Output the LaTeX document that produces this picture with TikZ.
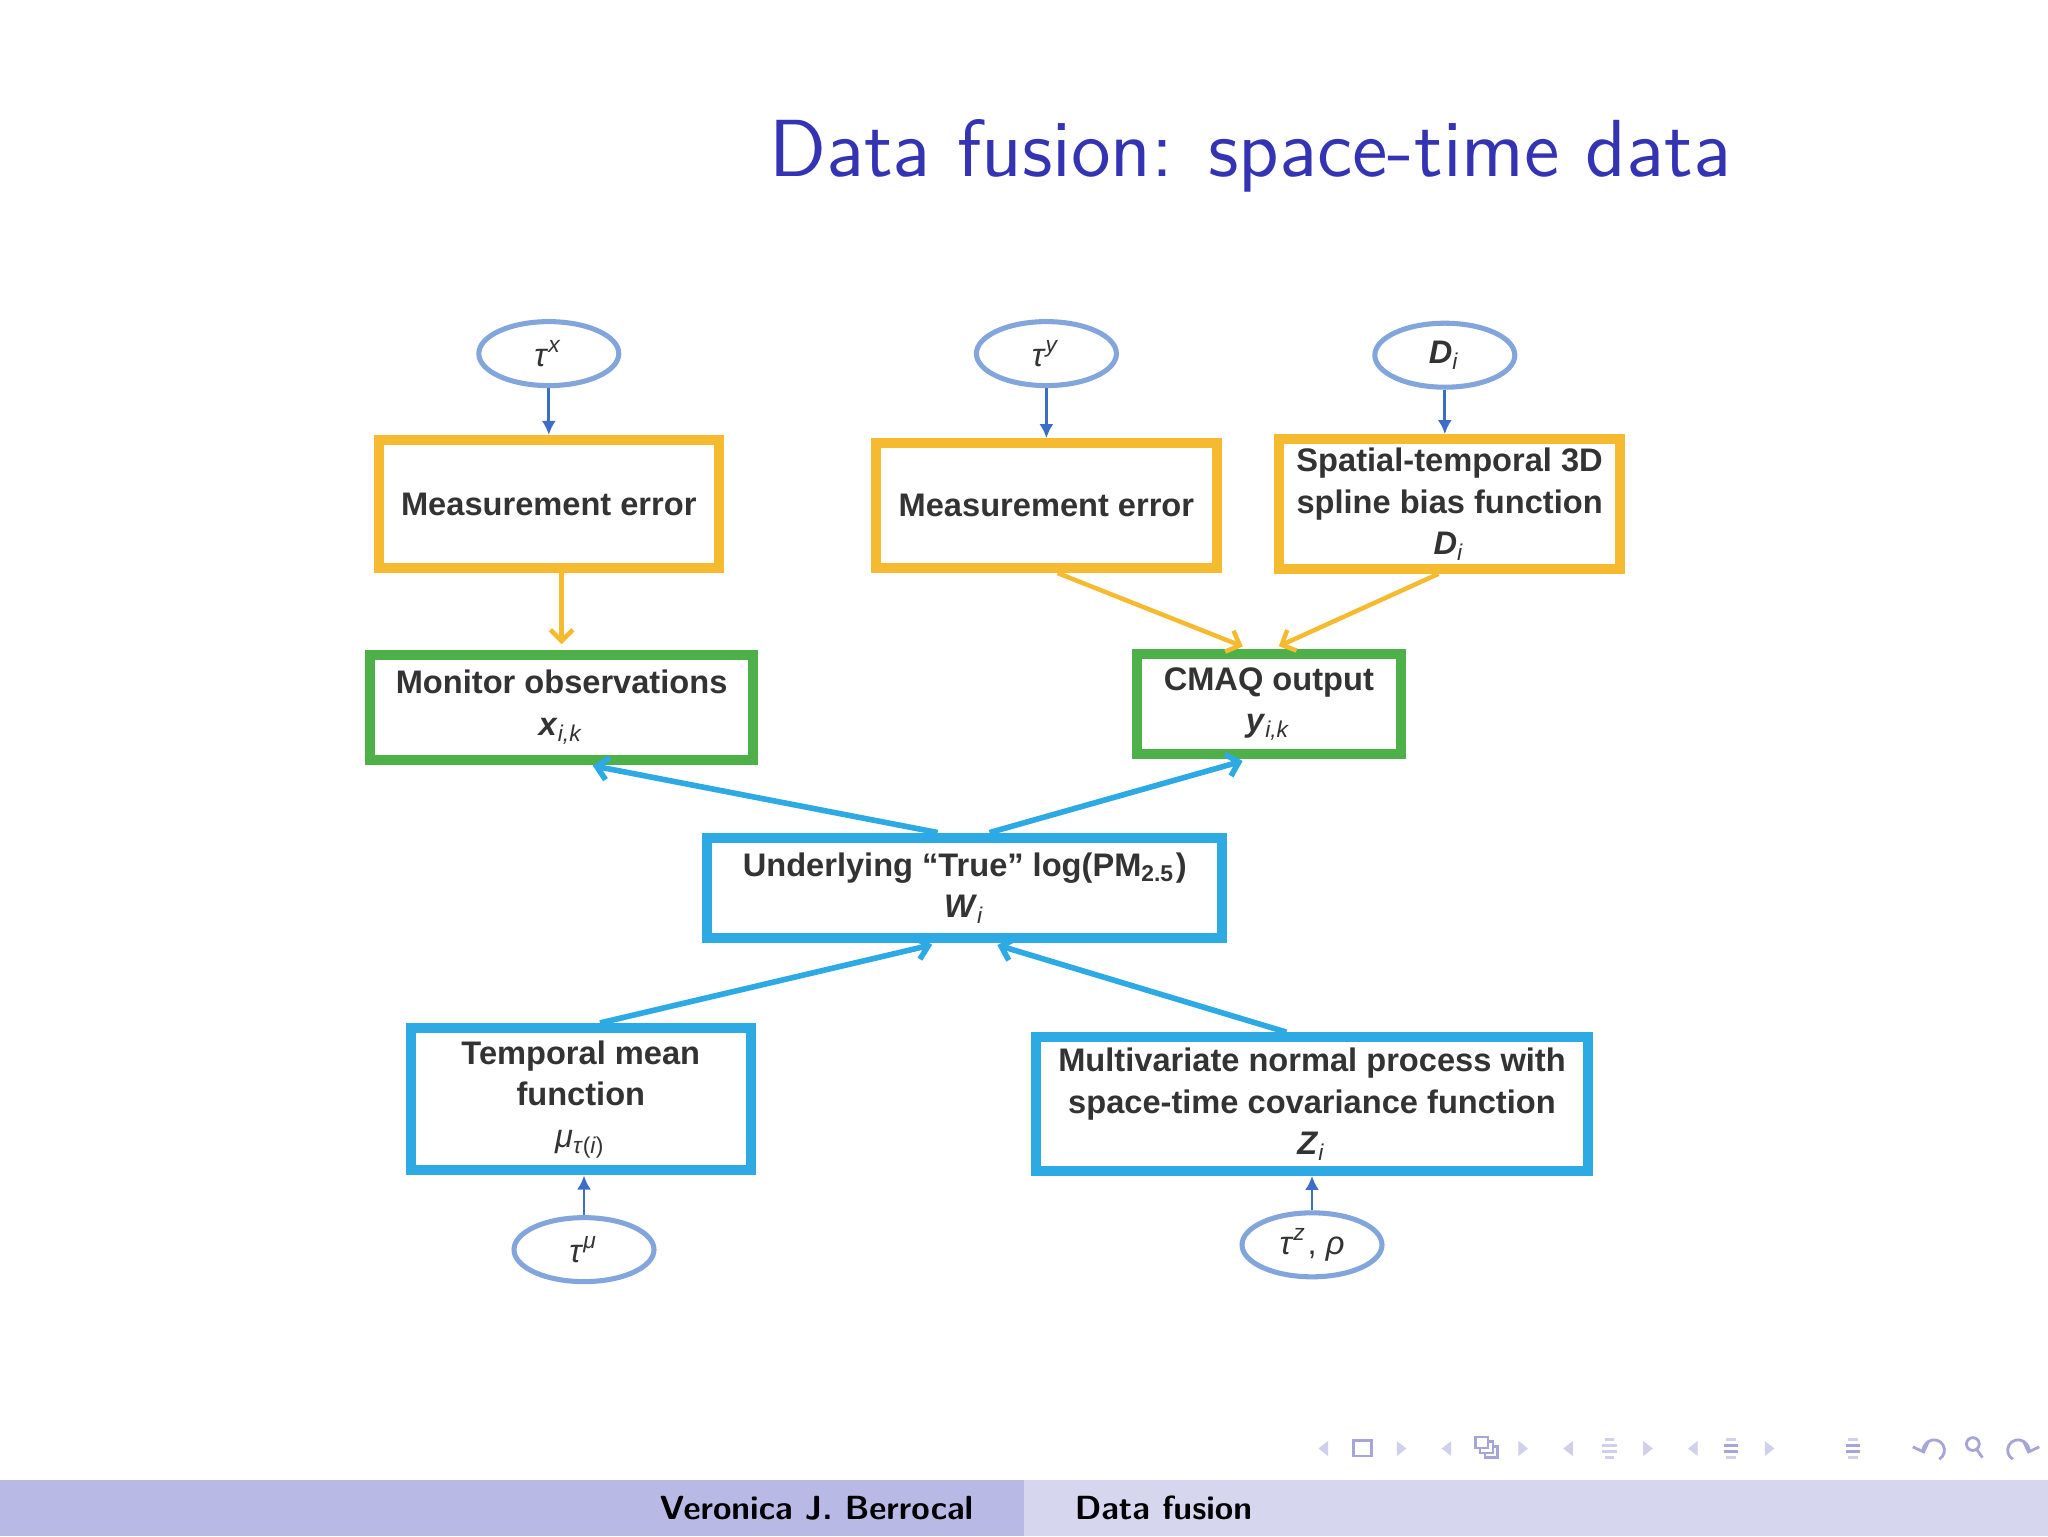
\documentclass[tikz,border=0pt]{standalone}
\usepackage{fontspec}
\usepackage{tikz}
\usetikzlibrary{positioning,shapes.geometric,arrows.meta}
\newfontfamily\figfont{Liberation Sans}
\definecolor{titleblue}{RGB}{51,51,179}
\definecolor{ellblue}{RGB}{130,165,220}
\definecolor{linkblue}{RGB}{60,110,200}
\definecolor{errorange}{RGB}{246,186,48}
\definecolor{obsgreen}{RGB}{78,176,72}
\definecolor{truecyan}{RGB}{45,170,228}
\definecolor{boxtext}{gray}{0.2}
\definecolor{footdark}{RGB}{185,185,230}
\definecolor{footlight}{RGB}{214,214,238}
\definecolor{navdark}{RGB}{165,165,215}
\definecolor{navlight}{RGB}{208,208,236}
\tikzset{
  param/.style={ellipse, draw=ellblue, line width=0.9pt, fill=white, minimum width=0.875cm, minimum height=0.40cm, inner sep=0pt, text=boxtext, font=\figfont\fontsize{5.8}{7}\selectfont},
  modelbox/.style={draw, line width=1.8pt, fill=white, align=center, inner sep=0pt, text=boxtext, font=\figfont\bfseries\fontsize{5.8}{7.4}\selectfont},
  errbox/.style={modelbox, draw=errorange},
  obsbox/.style={modelbox, draw=obsgreen},
  truebox/.style={modelbox, draw=truecyan},
  hyper/.style={-{Latex[length=2.5pt,width=2.5pt]}, draw=linkblue, line width=0.5pt},
  feed/.style={-{Straight Barb[length=2pt,width=4pt]}, draw=errorange, line width=0.8pt, shorten >=1pt},
  latent/.style={-{Straight Barb[length=2pt,width=4pt]}, draw=truecyan, line width=1pt, shorten >=1pt}
}
\begin{document}
\begin{tikzpicture}
\useasboundingbox (0,0) rectangle (12.8,9.6);
\fill[white] (0,0) rectangle (12.8,9.6);

% frame title
\node[anchor=base west, inner sep=0pt, text=titleblue, font=\sffamily\fontsize{14.4}{17}\selectfont] (title) at (4.80,8.50) {Data fusion: space-time data};

% hyperparameters on top
\node[param] (taux) at (3.43,7.39) {\textit{τ}\textsuperscript{\textit{x}}};
\node[param] (tauy) at (6.54,7.39) {\textit{τ}\textsuperscript{\textit{y}}};
\node[param] (biasD) at (9.03,7.38) {\textbf{\textit{D}}\textsubscript{\textit{i}}};

% error and bias boxes
\node[errbox, minimum width=2.125cm, minimum height=0.80cm] (errx) at (3.43,6.45) {Measurement error};
\node[errbox, minimum width=2.13cm, minimum height=0.78cm] (erry) at (6.54,6.44) {Measurement error};
\node[errbox, minimum width=2.13cm, minimum height=0.81cm] (bias) at (9.06,6.45) {Spatial-temporal 3D\\spline bias function\\\textit{D}\textsubscript{\mdseries\textit{i}}};

% observed data
\node[obsbox, minimum width=2.39cm, minimum height=0.655cm] (monitor) at (3.51,5.18) {Monitor observations\\\textit{x}\textsubscript{\mdseries\textit{i,k}}};
\node[obsbox, minimum width=1.65cm, minimum height=0.63cm] (cmaq) at (7.93,5.20) {CMAQ output\\\textit{y}\textsubscript{\mdseries\textit{i,k}}};

% latent process
\node[truebox, minimum width=3.22cm, minimum height=0.63cm] (truth) at (6.03,4.05) {Underlying “True” log(PM\textsubscript{2.5})\\\textit{W}\textsubscript{\mdseries\textit{i}}};
\node[truebox, minimum width=2.125cm, minimum height=0.89cm] (tmean) at (3.63,2.73) {Temporal mean\\function\\\mdseries\textit{μ}\textsubscript{\textit{τ}(\textit{i})}};
\node[truebox, minimum width=3.45cm, minimum height=0.835cm] (mvn) at (8.20,2.70) {Multivariate normal process with\\space-time covariance function\\\textit{Z}\textsubscript{\mdseries\textit{i}}};

% hyperparameters at the bottom
\node[param] (taumu) at (3.65,1.79) {\textit{τ}\textsuperscript{\textit{μ}}};
\node[param] (tauz) at (8.20,1.82) {\textit{τ}\textsuperscript{\textit{z}}, \textit{ρ}};

% connectors
\draw[hyper] (taux) -- (errx);
\draw[hyper] (tauy) -- (erry);
\draw[hyper] (biasD.south) -- (biasD.south |- bias.north);
\draw[feed] (errx.south -| monitor.north) -- (monitor.north);
\draw[feed] ([xshift=0.07cm]erry.south) -- ([xshift=-0.13cm]cmaq.north);
\draw[feed] ([xshift=-0.07cm]bias.south) -- ([xshift=0.03cm]cmaq.north);
\draw[latent] ([xshift=-0.17cm]truth.north) -- ([xshift=0.16cm]monitor.south);
\draw[latent] ([xshift=0.155cm]truth.north) -- ([xshift=-0.13cm]cmaq.south);
\draw[latent] ([xshift=0.12cm]tmean.north) -- ([xshift=-0.17cm]truth.south);
\draw[latent] ([xshift=-0.16cm]mvn.north) -- ([xshift=0.17cm]truth.south);
\draw[hyper] (taumu.north) -- (taumu.north |- tmean.south);
\draw[hyper] (tauz.north) -- (tauz.north |- mvn.south);

% navigation symbols
\foreach \x in {8.27,9.04,9.80,10.58}
  \fill[navlight] (\x-0.03,0.547) -- (\x+0.03,0.594) -- (\x+0.03,0.500) -- cycle;
\foreach \x in {8.76,9.52,10.30,11.06}
  \fill[navlight] (\x+0.03,0.547) -- (\x-0.03,0.594) -- (\x-0.03,0.500) -- cycle;
\draw[navdark, line width=0.5pt] (8.46,0.50) rectangle (8.57,0.595);
\foreach \d in {0,0.03,0.06}
  \draw[navdark, line width=0.45pt, fill=white] (9.22+0.06-\d,0.49+\d) rectangle ++(0.08,0.07);
\foreach \x/\c in {10.06/navlight,10.82/navdark,11.58/navdark} {
  \draw[navlight, line width=0.45pt] (\x-0.03,0.605) -- (\x+0.03,0.605) (\x-0.03,0.49) -- (\x+0.03,0.49);
  \foreach \y in {0.528,0.566}
    \draw[\c, line width=0.6pt] (\x-0.045,\y) -- (\x+0.045,\y);
}
\draw[navdark, line width=0.5pt, -{Straight Barb[length=1.5pt,width=3pt]}] (12.12,0.48) arc (-60:200:0.065);
\draw[navdark, line width=0.5pt] (12.33,0.575) circle (0.04) (12.355,0.54) -- (12.39,0.49);
\draw[navdark, line width=0.5pt, -{Straight Barb[length=1.5pt,width=3pt]}] (12.58,0.48) arc (240:-20:0.065);

% footline
\fill[footdark] (0,0) rectangle (6.4,0.351);
\fill[footlight] (6.4,0) rectangle (12.8,0.351);
\node[anchor=base east, inner sep=0pt, font=\sffamily\bfseries\fontsize{5.95}{7}\selectfont] (author) at (6.09,0.105) {Veronica J. Berrocal};
\node[anchor=base west, inner sep=0pt, font=\sffamily\bfseries\fontsize{5.95}{7}\selectfont] (short) at (6.71,0.105) {Data fusion};
\end{tikzpicture}
\end{document}
